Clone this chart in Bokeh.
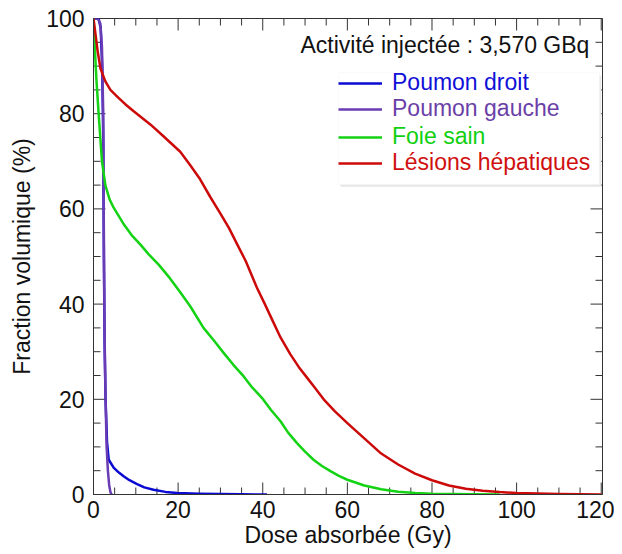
import numpy as np
from bokeh.plotting import figure
from bokeh.models import Legend, LegendItem, SingleIntervalTicker, Label, BoxAnnotation, Range1d
from bokeh.embed import file_html
from bokeh.resources import INLINE

# ---- data ----
dose_droit = [0, 1.2, 1.7, 2.05, 2.3, 2.45, 2.65, 2.85, 3.2, 3.6, 4.8, 6, 7.2, 8.5,
              10.3, 12, 14.2, 17, 19.8, 25, 30, 35, 41]
vol_droit = [100, 100, 98, 90, 75, 50, 30, 20, 11, 7.3, 5.6, 4.6, 3.8, 3.0,
             2.2, 1.5, 1.0, 0.55, 0.3, 0.15, 0.08, 0.04, 0]

dose_gauche = [0, 1.0, 1.6, 2.0, 2.3, 2.45, 2.6, 2.85, 3.1, 3.4, 3.7, 4.0, 4.3]
vol_gauche = [100, 100, 99, 94, 80, 55, 35, 20, 10, 5, 2, 0.5, 0]

dose_foie = [0, 0.3, 0.7, 1.25, 2, 2.8, 3.8, 4.8, 7.2, 9, 11.1, 13, 15.4, 18, 20.5,
             22.9, 26, 28.5, 30.8, 33, 35.5, 37.5, 39.8, 42, 44.2, 46, 48.1, 50, 52,
             54, 56, 58, 60, 64, 68, 72, 76, 80, 85, 90, 96]
vol_foie = [100, 94, 87, 79.5, 70, 65, 62, 60.2, 56.7, 54.5, 52.5, 50.5, 48.3, 45.5, 42.5,
            39.5, 35, 32.3, 29.7, 27.3, 24.8, 22.5, 20.3, 17.7, 15.4, 13, 10.8, 9, 7.3,
            6, 4.9, 3.9, 3.1, 1.9, 1.1, 0.6, 0.3, 0.15, 0.08, 0.03, 0]

dose_lesions = [0, 0.5, 1, 1.65, 2.8, 4, 5.6, 7.5, 9.5, 13.5, 16.6, 20.5, 23, 25, 27.6,
                30, 32, 34, 36, 38.6, 40.5, 42.6, 44.2, 46.5, 48.5, 50.5, 52, 54.4, 57,
                60, 64, 68, 72, 76, 80, 84, 88, 92, 96, 100, 105, 110, 115, 120]
vol_lesions = [100, 96.5, 93, 89.5, 86.8, 85, 83.6, 82, 80.5, 77.7, 75.2, 72, 69, 66.5, 62.5,
               59, 56, 52.5, 49, 43.5, 40, 36, 33, 29.5, 26.8, 24.5, 22.8, 20, 17.5,
               15, 11.8, 8.6, 6.3, 4.4, 3.0, 1.9, 1.2, 0.8, 0.5, 0.3, 0.2, 0.1, 0.05, 0]

labels = ["Poumon droit", "Poumon gauche", "Foie sain", "Lésions hépatiques"]
line_colors = ["#0a0ad2", "#6a3cb4", "#14d214", "#cc0a0a"]
text_colors = ["#1010d8", "#6b3fa8", "#10d010", "#d01010"]
activity_text = "Activité injectée : 3,570 GBq"

X_MAX, Y_MAX = 120.3, 100
MAJOR_STEP, MINOR_STEP = 20, 5

FONT = "Liberation Sans"
FS = "23px"
AX = "#333333"

BL, BR, BT, BB = 93, 12, 18, 58
FRAME_W, FRAME_H = 509, 476
W, H = BL + FRAME_W + BR, BT + FRAME_H + BB

p = figure(width=W, height=H, x_range=Range1d(0, X_MAX), y_range=Range1d(0, Y_MAX),
           output_backend="svg", toolbar_location=None,
           min_border_left=BL, min_border_right=BR, min_border_top=BT, min_border_bottom=BB,
           x_axis_label="Dose absorbée (Gy)", y_axis_label="Fraction volumique (%)")
p.grid.visible = False
p.outline_line_color = AX
p.outline_line_width = 1
p.background_fill_color = "white"
p.border_fill_color = "white"

for ax in (p.xaxis[0], p.yaxis[0]):
    ax.ticker = SingleIntervalTicker(interval=MAJOR_STEP, num_minor_ticks=4)
    ax.major_tick_in = 0
    ax.major_tick_out = 0
    ax.minor_tick_in = 0
    ax.minor_tick_out = 0
    ax.axis_line_color = AX
    ax.major_label_text_font = FONT
    ax.major_label_text_font_size = FS
    ax.major_label_text_color = "#111111"
    ax.axis_label_text_font = FONT
    ax.axis_label_text_font_size = FS
    ax.axis_label_text_color = "#111111"
    ax.axis_label_text_font_style = "normal"
p.xaxis[0].major_label_standoff = 6
p.xaxis[0].axis_label_standoff = 1
p.yaxis[0].major_label_standoff = 9
p.yaxis[0].axis_label_standoff = 8

# inward ticks on all four sides (lengths in px converted to data units)
xs_px = FRAME_W / X_MAX
ys_px = FRAME_H / Y_MAX
MAJ_LEN, MIN_LEN = 12, 7
xt = np.arange(0, X_MAX + 0.01, MINOR_STEP)
yt = np.arange(0, Y_MAX + 0.01, MINOR_STEP)
xlen = np.where(xt % MAJOR_STEP == 0, MAJ_LEN, MIN_LEN)
ylen = np.where(yt % MAJOR_STEP == 0, MAJ_LEN, MIN_LEN)
tick_kw = dict(line_color=AX, line_width=1)
p.segment(x0=xt, y0=0, x1=xt, y1=xlen / ys_px, **tick_kw)
p.segment(x0=xt, y0=Y_MAX, x1=xt, y1=Y_MAX - xlen / ys_px, **tick_kw)
p.segment(x0=0, y0=yt, x1=ylen / xs_px, y1=yt, **tick_kw)
p.segment(x0=X_MAX, y0=yt, x1=X_MAX - ylen / xs_px, y1=yt, **tick_kw)

series = [(dose_droit, vol_droit), (dose_gauche, vol_gauche),
          (dose_foie, vol_foie), (dose_lesions, vol_lesions)]
renderers = []
for (xs, ys), c in zip(series, line_colors):
    r = p.line(xs, ys, line_color=c, line_width=2.5, line_join="round")
    renderers.append(r)

# legend frame (light, with soft shadow)
p.add_layout(BoxAnnotation(left=58.4, right=120.0, top=88.0, bottom=64.6,
                           fill_color="#e9e9e9", fill_alpha=1, line_alpha=0))
p.add_layout(BoxAnnotation(left=57.9, right=119.6, top=88.6, bottom=65.1,
                           fill_color="white", fill_alpha=1, line_color="#ececec", line_width=1))

# one legend per item so that each label keeps its series colour
leg_y = [398, 372, 344, 318]
for lab, r, tc, ly in zip(labels, renderers, text_colors, leg_y):
    leg = Legend(items=[LegendItem(label=lab, renderers=[r])], location=(245, ly),
                 label_text_color=tc, label_text_font=FONT, label_text_font_size=FS,
                 glyph_width=44, glyph_height=20, label_standoff=10, padding=0,
                 spacing=0, margin=0, border_line_alpha=0, background_fill_alpha=0,
                 label_height=20)
    p.add_layout(leg, "center")

p.add_layout(Label(x=117.2, y=94.4, text=activity_text, text_align="right",
                   text_baseline="middle", text_font=FONT, text_font_size=FS,
                   text_color="#111111"))

open("out.html", "w").write(file_html(p, INLINE))
